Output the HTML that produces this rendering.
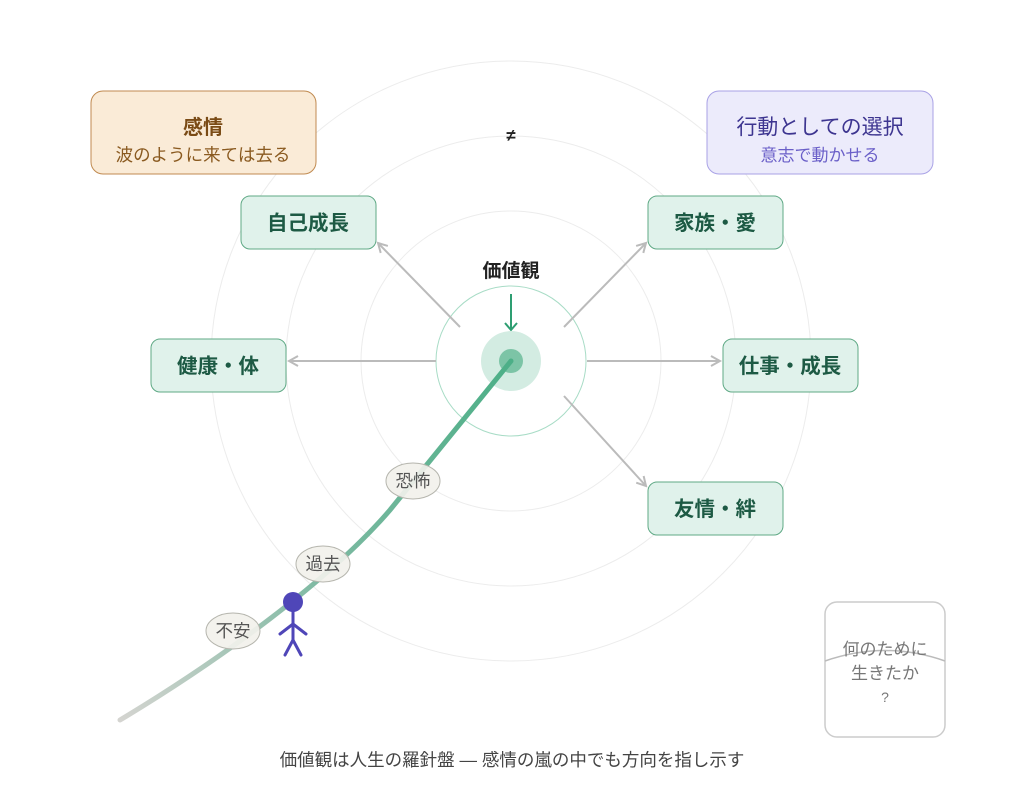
<!DOCTYPE html>
<html><head><meta charset="utf-8"><style>
html,body{margin:0;padding:0;background:#fff}
svg{display:block;font-family:"Liberation Sans","Noto Sans CJK JP",sans-serif}
</style></head><body>
<svg width="1024" height="787" viewBox="0 0 1024 787">
<defs>
<linearGradient id="g" x1="120" y1="720" x2="511" y2="361" gradientUnits="userSpaceOnUse">
<stop offset="0" stop-color="#d4d4d0"/><stop offset="0.45" stop-color="#7fbaa3"/><stop offset="1" stop-color="#4caf87"/>
</linearGradient>
<marker id="a" markerWidth="12" markerHeight="12" refX="10" refY="6" orient="auto" markerUnits="userSpaceOnUse">
<path d="M1,1 L10,6 L1,11" fill="none" stroke="#bbb" stroke-width="2"/></marker>
<marker id="ag" markerWidth="14" markerHeight="14" refX="7" refY="12" orient="0" markerUnits="userSpaceOnUse">
<path d="M1,5 L7,12 L13,5" fill="none" stroke="#2e9e72" stroke-width="2"/></marker>
</defs>
<g fill="none" stroke="#ececec" stroke-width="1">
<circle cx="511" cy="361" r="150"/><circle cx="511" cy="361" r="225"/><circle cx="511" cy="361" r="300"/>
</g>
<circle cx="511" cy="361" r="75" fill="none" stroke="#a8dcc6" stroke-width="1"/>
<g stroke="#bbb" stroke-width="2" fill="none">
<line x1="460" y1="327" x2="378" y2="243" marker-end="url(#a)"/>
<line x1="564" y1="327" x2="646" y2="243" marker-end="url(#a)"/>
<line x1="436" y1="361" x2="289" y2="361" marker-end="url(#a)"/>
<line x1="587" y1="361" x2="720" y2="361" marker-end="url(#a)"/>
<line x1="564" y1="396" x2="646" y2="486" marker-end="url(#a)"/>
</g>
<text x="511" y="277" text-anchor="middle" font-size="19" font-weight="bold" fill="#222">価値観</text>
<line x1="511" y1="294" x2="511" y2="330" stroke="#2e9e72" stroke-width="2" marker-end="url(#ag)"/>
<circle cx="511" cy="361" r="30" fill="#d3ece2"/>
<circle cx="511" cy="361" r="12" fill="#7cc4a6"/>
<path d="M511,361 L390,510 C330,580 220,660 120,720" fill="none" stroke="url(#g)" stroke-width="5" stroke-linecap="round"/>
<text x="511" y="141" text-anchor="middle" font-size="17" font-weight="bold" fill="#222">≠</text>
<rect x="91" y="91" width="225" height="83" rx="12" fill="#faebd7" stroke="#c08a50"/>
<text x="203" y="134" text-anchor="middle" font-size="20" font-weight="bold" fill="#7a4b16">感情</text>
<text x="203" y="161" text-anchor="middle" font-size="17.5" fill="#8a5a20">波のように来ては去る</text>
<rect x="707" y="91" width="226" height="83" rx="12" fill="#ecebfb" stroke="#a9a2e6"/>
<text x="820" y="134" text-anchor="middle" font-size="21" fill="#3d3590">行動としての選択</text>
<text x="820" y="161" text-anchor="middle" font-size="17" fill="#6a5fc8">意志で動かせる</text>
<g fill="#e0f2eb" stroke="#5fa985">
<rect x="241" y="196" width="135" height="53" rx="9"/>
<rect x="648" y="196" width="135" height="53" rx="9"/>
<rect x="151" y="339" width="135" height="53" rx="9"/>
<rect x="723" y="339" width="135" height="53" rx="9"/>
<rect x="648" y="482" width="135" height="53" rx="9"/>
</g>
<g font-size="20.5" font-weight="bold" fill="#1d5a44" text-anchor="middle">
<text x="308" y="230">自己成長</text>
<text x="715" y="230">家族・愛</text>
<text x="218" y="373">健康・体</text>
<text x="790" y="373">仕事・成長</text>
<text x="715" y="516">友情・絆</text>
</g>
<g fill="#f2f1ec" fill-opacity="0.92" stroke="#b5b5ad">
<ellipse cx="413" cy="481" rx="27" ry="18"/>
<ellipse cx="323" cy="564" rx="27" ry="18"/>
<ellipse cx="233" cy="631" rx="27" ry="18"/>
</g>
<g font-size="17.5" fill="#555" text-anchor="middle">
<text x="413" y="487">恐怖</text><text x="323" y="570">過去</text><text x="233" y="637">不安</text>
</g>
<g stroke="#4f46b8" stroke-width="3" fill="none" stroke-linecap="round">
<line x1="293" y1="610" x2="293" y2="640"/>
<line x1="280" y1="634" x2="293" y2="624"/><line x1="306" y1="634" x2="293" y2="624"/>
<line x1="293" y1="640" x2="285" y2="655"/><line x1="293" y1="640" x2="301" y2="655"/>
</g>
<circle cx="293" cy="602" r="10" fill="#4f46b8"/>
<rect x="825" y="602" width="120" height="135" rx="12" fill="#fff" stroke="#ccc" stroke-width="1.5"/>
<path d="M825,661 Q885,640 945,661" fill="none" stroke="#bbb" stroke-width="1.5"/>
<g font-size="17" fill="#777" text-anchor="middle">
<text x="885" y="655">何のために</text><text x="885" y="679">生きたか</text><text x="885" y="702" font-size="14">?</text>
</g>
<text x="512" y="766" text-anchor="middle" font-size="17.5" fill="#444">価値観は人生の羅針盤 — 感情の嵐の中でも方向を指し示す</text>
</svg>
</body></html>
